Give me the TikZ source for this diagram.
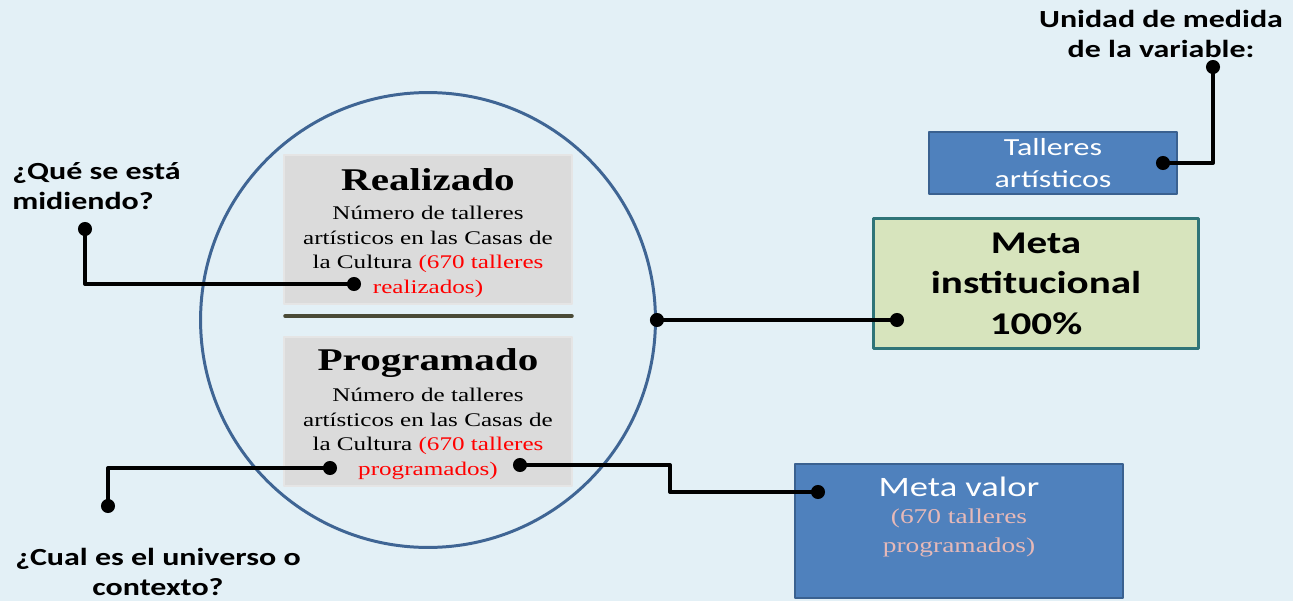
\documentclass[tikz,border=0pt]{standalone}
\usepackage{fontspec}
\setmainfont[FakeStretch=1.3]{Liberation Serif}
\newfontfamily\calib[FakeStretch=1.3]{Carlito}
\usetikzlibrary{positioning}
\definecolor{fondo}{HTML}{E3F0F6}
\definecolor{aro}{HTML}{3F6594}
\definecolor{azul}{HTML}{4F81BD}
\definecolor{azulb}{HTML}{3A6190}
\definecolor{verde}{HTML}{D7E4BD}
\definecolor{verdeb}{HTML}{2F7478}
\definecolor{rosa}{HTML}{E6B9B8}
\definecolor{raya}{HTML}{4A4A36}
\begin{document}
\begin{tikzpicture}[x=0.02cm, y=-0.02cm, line join=round, line cap=round,
    caja/.style={draw=white!80!gray, fill=gray!28, line width=0.8pt,
      minimum width=5.76cm, minimum height=2.98cm, inner sep=0pt},
    azulcaja/.style={draw=azulb, fill=azul, line width=1.2pt, inner sep=0pt},
    pregunta/.style={font={\calib\bfseries\fontsize{14}{17.5}\selectfont}, inner sep=0pt},
    titulo/.style={font={\bfseries\fontsize{18}{20}\selectfont}, inner sep=0pt},
    cuerpo/.style={font={\fontsize{11}{14}\selectfont}, align=center, inner sep=0pt},
    enlace/.style={line width=2.3pt}]
    \fill[fondo] (0,0) rectangle (1293,601);
    \useasboundingbox (0,0) rectangle (1293,601);
    % puntos de los enlaces
    \path
    (85,229) coordinate (dq)
    (354,284) coordinate (dr)
    (1213,67) coordinate (du)
    (1163,163) coordinate (dt)
    (108,506) coordinate (dx)
    (330,468) coordinate (dp)
    (520,465) coordinate (dg)
    (818,492) coordinate (dv)
    (897,320) coordinate (dm)
    ;
    %\draw[gray!50] (0,0) grid[step=50] (1293,601);
    \node[circle, draw=aro, line width=1.7pt, minimum size=9.1cm] (circ) at (428,320) {};
    \node[caja] (real) at (428,229.5) {};
    \node[caja] (prog) at (428,411.5) {};
    \draw[raya, line width=2pt] (285,316) -- (572,316);
    \node[titulo] (realt) at (428,180) {Realizado};
    \node[cuerpo] (realb) at (428,252) {N\'umero de talleres\\ art\'isticos en las Casas de\\
      la Cultura {\color{red}(670 talleres}\\ {\color{red}realizados)}};
    \node[titulo] (progt) at (428,363) {Programado};
    \node[cuerpo] (progb) at (428,434) {N\'umero de talleres\\ art\'isticos en las Casas de\\
      la Cultura {\color{red}(670 talleres}\\ {\color{red}programados)}};
    \node[azulcaja, minimum width=4.96cm, minimum height=1.24cm, text=white, align=center,
      font={\calib\fontsize{14}{18}\selectfont}] (tall) at (1053,163) {Talleres\\ art\'isticos};
    \node[draw=verdeb, fill=verde, line width=1.7pt, minimum width=6.52cm, minimum height=2.62cm,
      inner sep=0pt, align=center, font={\calib\bfseries\fontsize{18}{23}\selectfont}]
      (meta) at (1036,283.5) {Meta\\ institucional\\ 100\%};
    \node[azulcaja, minimum width=6.56cm, minimum height=2.68cm] (valor) at (959,531) {};
    \node[text=white, inner sep=0pt, font={\calib\fontsize{16}{18}\selectfont}] (valort) at (959,487) {Meta valor};
    \node[text=rosa, inner sep=0pt, align=center, font={\fontsize{12}{16}\selectfont}]
      (valorb) at (959,533) {(670 talleres\\ programados)};
    \node[pregunta, align=left, anchor=west] (qmide) at (12,186) {¿Qu\'e se est\'a\\ midiendo?};
    \node[pregunta, align=center] (quniv) at (158,572) {¿Cual es el universo o\\ contexto?};
    \node[pregunta, align=center] (qunid) at (1161,34) {Unidad de medida\\ de la variable:};
    % enlaces
    \draw[enlace] (dq) |- (dr);
    \draw[enlace] (circ.east) -- (dm);
    \draw[enlace] (du) |- (dt);
    \draw[enlace] (dx) |- (dp);
    \draw[enlace] (dg) -- ++(150,0) |- (dv);
    \foreach \p in {dq,dr,du,dt,dx,dp,dg,dv,dm,circ.east}
    \fill (\p) circle (4pt);
\end{tikzpicture}
\end{document}
